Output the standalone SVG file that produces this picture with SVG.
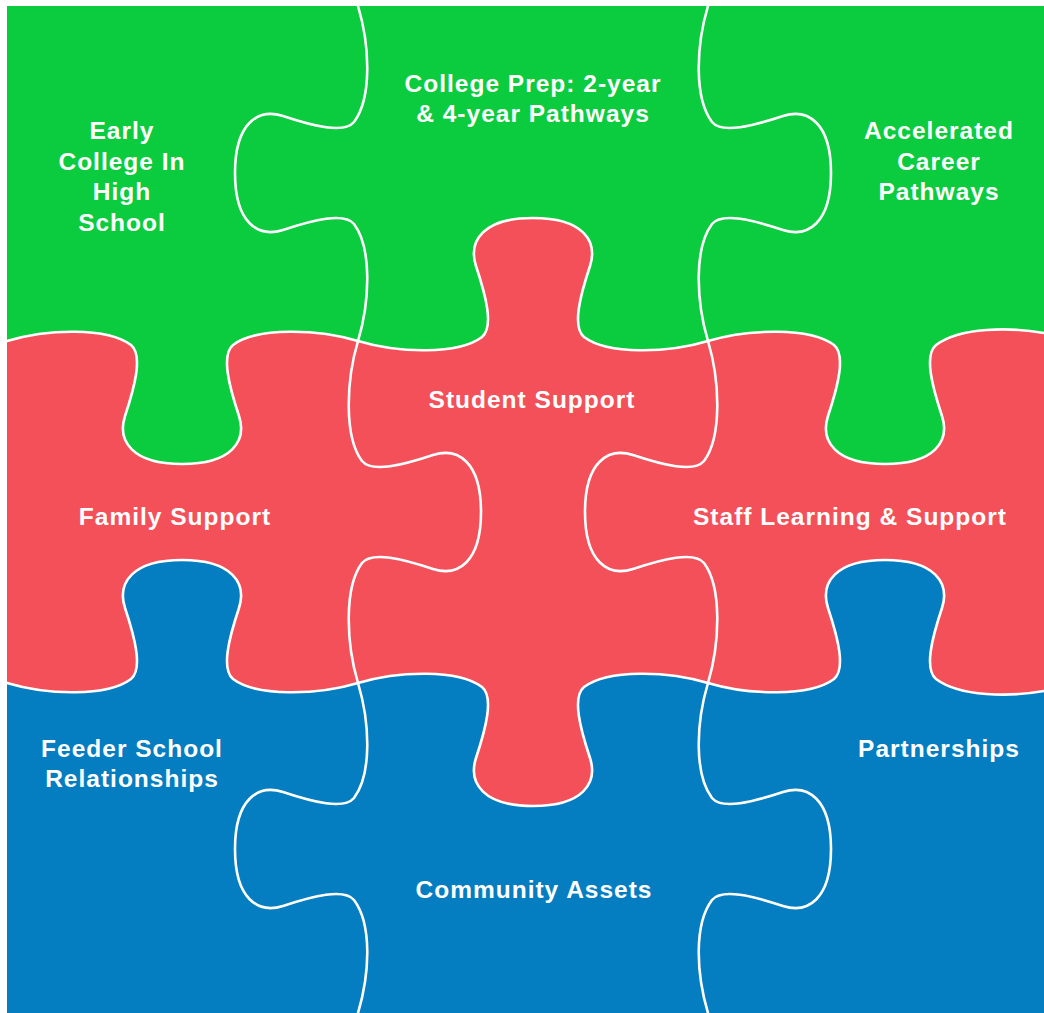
<svg xmlns="http://www.w3.org/2000/svg" width="1044" height="1013" viewBox="0 0 1044 1013">
  <style>
    .green { fill: #0bcc3e; }
    .red { fill: #f4505a; }
    .blue { fill: #047dc1; }
    .seam { fill: none; stroke: #ffffff; stroke-width: 2.6; stroke-linejoin: round; stroke-linecap: round; }
    .label { font-family: "Liberation Sans", Arial, sans-serif; font-weight: bold; font-size: 24.5px; letter-spacing: 1px; fill: #ffffff; text-anchor: middle; }
  </style>
  <rect x="0" y="0" width="1044" height="1013" fill="#ffffff"/>

  <g id="piece-early-college">
    <path class="green" d="M7,6 L358,6 C370,46 372,98 354,122 C344,134 313,126 283,116 C258,108 235,123 235,173 C235,223 258,238 283,230 C313,220 344,212 354,224 C372,248 370,301 358,341 C318,329 257,327 233,345 C221,355 229,386 239,416 C247,441 232,464 182,464 C132,464 117,441 125,416 C135,386 143,355 131,345 C107,327 47,329 7,341 Z"/>
    <text class="label" x="122" y="139">Early</text>
    <text class="label" x="122" y="170">College In</text>
    <text class="label" x="122" y="200">High</text>
    <text class="label" x="122" y="231">School</text>
  </g>

  <g id="piece-college-prep">
    <path class="green" d="M358,6 L708,6 C696,46 694,98 712,122 C722,134 753,126 783,116 C808,108 831,123 831,173 C831,223 808,238 783,230 C753,220 722,212 712,224 C694,248 696,301 708,341 C668,353 608,355 584,337 C572,327 580,296 590,266 C598,241 583,218 533,218 C483,218 468,241 476,266 C486,296 494,327 482,337 C458,355 398,353 358,341 C370,301 372,248 354,224 C344,212 313,220 283,230 C258,238 235,223 235,173 C235,123 258,108 283,116 C313,126 344,134 354,122 C372,98 370,46 358,6 Z"/>
    <text class="label" x="533" y="92">College Prep: 2-year</text>
    <text class="label" x="533" y="122">&amp; 4-year Pathways</text>
  </g>

  <g id="piece-accelerated-career">
    <path class="green" d="M708,6 L1044,6 L1044,333 C1010,327 960,327 936,345 C924,355 932,386 942,416 C950,441 935,464 885,464 C835,464 820,441 828,416 C838,386 846,355 834,345 C810,327 748,329 708,341 C696,301 694,248 712,224 C722,212 753,220 783,230 C808,238 831,223 831,173 C831,123 808,108 783,116 C753,126 722,134 712,122 C694,98 696,46 708,6 Z"/>
    <text class="label" x="939" y="139">Accelerated</text>
    <text class="label" x="939" y="170">Career</text>
    <text class="label" x="939" y="200">Pathways</text>
  </g>

  <g id="piece-family-support">
    <path class="red" d="M7,341 C47,329 107,327 131,345 C143,355 135,386 125,416 C117,441 132,464 182,464 C232,464 247,441 239,416 C229,386 221,355 233,345 C257,327 318,329 358,341 C346,381 344,437 362,461 C372,473 403,465 433,455 C458,447 481,462 481,512 C481,562 458,577 433,569 C403,559 372,551 362,563 C344,587 346,643 358,683 C318,695 257,697 233,679 C221,669 229,638 239,608 C247,583 232,560 182,560 C132,560 117,583 125,608 C135,638 143,669 131,679 C107,697 47,695 7,683 Z"/>
    <text class="label" x="175" y="525">Family Support</text>
  </g>

  <g id="piece-student-support">
    <path class="red" d="M358,341 C398,353 458,355 482,337 C494,327 486,296 476,266 C468,241 483,218 533,218 C583,218 598,241 590,266 C580,296 572,327 584,337 C608,355 668,353 708,341 C720,381 722,437 704,461 C694,473 663,465 633,455 C608,447 585,462 585,512 C585,562 608,577 633,569 C663,559 694,551 704,563 C722,587 720,643 708,683 C668,671 608,669 584,687 C572,697 580,728 590,758 C598,783 583,806 533,806 C483,806 468,783 476,758 C486,728 494,697 482,687 C458,669 398,671 358,683 C346,643 344,587 362,563 C372,551 403,559 433,569 C458,577 481,562 481,512 C481,462 458,447 433,455 C403,465 372,473 362,461 C344,437 346,381 358,341 Z"/>
    <text class="label" x="532" y="408">Student Support</text>
  </g>

  <g id="piece-staff-learning">
    <path class="red" d="M708,341 C748,329 810,327 834,345 C846,355 838,386 828,416 C820,441 835,464 885,464 C935,464 950,441 942,416 C932,386 924,355 936,345 C960,327 1010,327 1044,333 L1044,691 C1010,697 960,697 936,679 C924,669 932,638 942,608 C950,583 935,560 885,560 C835,560 820,583 828,608 C838,638 846,669 834,679 C810,697 748,695 708,683 C720,643 722,587 704,563 C694,551 663,559 633,569 C608,577 585,562 585,512 C585,462 608,447 633,455 C663,465 694,473 704,461 C722,437 720,381 708,341 Z"/>
    <text class="label" x="850" y="525">Staff Learning &amp; Support</text>
  </g>

  <g id="piece-feeder-school">
    <path class="blue" d="M7,683 C47,695 107,697 131,679 C143,669 135,638 125,608 C117,583 132,560 182,560 C232,560 247,583 239,608 C229,638 221,669 233,679 C257,697 318,695 358,683 C370,723 372,774 354,798 C344,810 313,802 283,792 C258,784 235,799 235,849 C235,899 258,914 283,906 C313,896 344,888 354,900 C372,924 370,973 358,1013 L7,1013 Z"/>
    <text class="label" x="132" y="757">Feeder School</text>
    <text class="label" x="132" y="787">Relationships</text>
  </g>

  <g id="piece-community-assets">
    <path class="blue" d="M358,683 C398,671 458,669 482,687 C494,697 486,728 476,758 C468,783 483,806 533,806 C583,806 598,783 590,758 C580,728 572,697 584,687 C608,669 668,671 708,683 C696,723 694,774 712,798 C722,810 753,802 783,792 C808,784 831,799 831,849 C831,899 808,914 783,906 C753,896 722,888 712,900 C694,924 696,973 708,1013 L358,1013 C370,973 372,924 354,900 C344,888 313,896 283,906 C258,914 235,899 235,849 C235,799 258,784 283,792 C313,802 344,810 354,798 C372,774 370,723 358,683 Z"/>
    <text class="label" x="534" y="898">Community Assets</text>
  </g>

  <g id="piece-partnerships">
    <path class="blue" d="M708,683 C748,695 810,697 834,679 C846,669 838,638 828,608 C820,583 835,560 885,560 C935,560 950,583 942,608 C932,638 924,669 936,679 C960,697 1010,697 1044,691 L1044,1013 L708,1013 C696,973 694,924 712,900 C722,888 753,896 783,906 C808,914 831,899 831,849 C831,799 808,784 783,792 C753,802 722,810 712,798 C694,774 696,723 708,683 Z"/>
    <text class="label" x="939" y="757">Partnerships</text>
  </g>

  <g id="connectors">
    <path class="seam" d="M7,341 C47,329 107,327 131,345 C143,355 135,386 125,416 C117,441 132,464 182,464 C232,464 247,441 239,416 C229,386 221,355 233,345 C257,327 318,329 358,341"/>
    <path class="seam" d="M358,341 C398,353 458,355 482,337 C494,327 486,296 476,266 C468,241 483,218 533,218 C583,218 598,241 590,266 C580,296 572,327 584,337 C608,355 668,353 708,341"/>
    <path class="seam" d="M708,341 C748,329 810,327 834,345 C846,355 838,386 828,416 C820,441 835,464 885,464 C935,464 950,441 942,416 C932,386 924,355 936,345 C960,327 1010,327 1044,333"/>
    <path class="seam" d="M7,683 C47,695 107,697 131,679 C143,669 135,638 125,608 C117,583 132,560 182,560 C232,560 247,583 239,608 C229,638 221,669 233,679 C257,697 318,695 358,683"/>
    <path class="seam" d="M358,683 C398,671 458,669 482,687 C494,697 486,728 476,758 C468,783 483,806 533,806 C583,806 598,783 590,758 C580,728 572,697 584,687 C608,669 668,671 708,683"/>
    <path class="seam" d="M708,683 C748,695 810,697 834,679 C846,669 838,638 828,608 C820,583 835,560 885,560 C935,560 950,583 942,608 C932,638 924,669 936,679 C960,697 1010,697 1044,691"/>
    <path class="seam" d="M358,6 C370,46 372,98 354,122 C344,134 313,126 283,116 C258,108 235,123 235,173 C235,223 258,238 283,230 C313,220 344,212 354,224 C372,248 370,301 358,341"/>
    <path class="seam" d="M708,6 C696,46 694,98 712,122 C722,134 753,126 783,116 C808,108 831,123 831,173 C831,223 808,238 783,230 C753,220 722,212 712,224 C694,248 696,301 708,341"/>
    <path class="seam" d="M358,341 C346,381 344,437 362,461 C372,473 403,465 433,455 C458,447 481,462 481,512 C481,562 458,577 433,569 C403,559 372,551 362,563 C344,587 346,643 358,683"/>
    <path class="seam" d="M708,341 C720,381 722,437 704,461 C694,473 663,465 633,455 C608,447 585,462 585,512 C585,562 608,577 633,569 C663,559 694,551 704,563 C722,587 720,643 708,683"/>
    <path class="seam" d="M358,683 C370,723 372,774 354,798 C344,810 313,802 283,792 C258,784 235,799 235,849 C235,899 258,914 283,906 C313,896 344,888 354,900 C372,924 370,973 358,1013"/>
    <path class="seam" d="M708,683 C696,723 694,774 712,798 C722,810 753,802 783,792 C808,784 831,799 831,849 C831,899 808,914 783,906 C753,896 722,888 712,900 C694,924 696,973 708,1013"/>
  </g>
</svg>
